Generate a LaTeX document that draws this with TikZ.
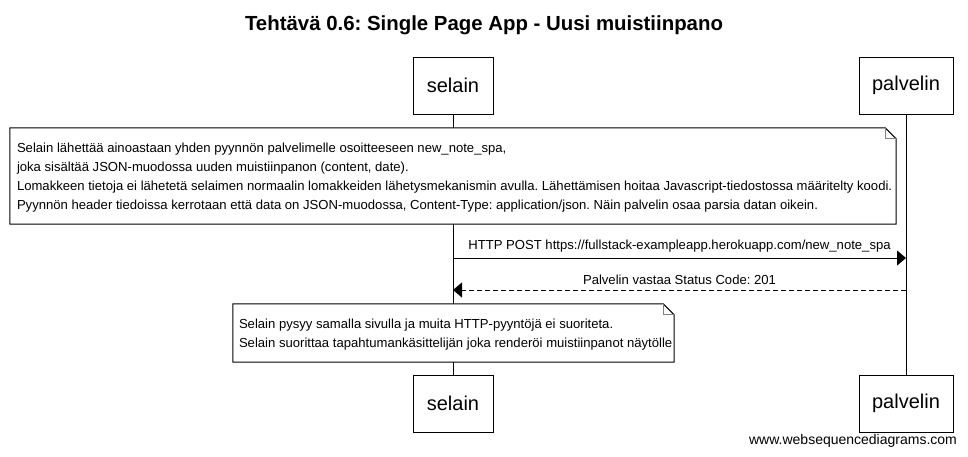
\documentclass[tikz,border=0pt]{standalone}
\usepackage{fontspec}
\setmainfont{Liberation Sans}
\usetikzlibrary{arrows.meta}
\begin{document}
\frenchspacing
\begin{tikzpicture}[x=1pt,y=-1pt,
  part/.style={draw, line width=1pt, fill=white, minimum height=57pt, inner sep=0pt, font=\fontsize{20}{24}\selectfont},
  notebox/.style={fill=white, inner sep=0pt},
  notetext/.style={anchor=west, inner sep=0pt, align=left, font=\fontsize{13.1}{19}\selectfont},
  noteline/.style={draw, line width=1pt},
  foldline/.style={draw=gray, line width=1pt},
  lifeline/.style={line width=1pt},
  msg/.style={line width=1pt, -{Triangle[length=9pt,width=15pt]}},
  reply/.style={line width=1pt, dash pattern=on 5pt off 3pt, -{Triangle[length=9pt,width=15pt]}},
  lbl/.style={font=\fontsize{13.1}{15}\selectfont, inner sep=0pt}
]
\useasboundingbox[fill=white] (0,0) rectangle (968,456);

\node[font=\bfseries\fontsize{20.4}{24}\selectfont] (title) at (484,25) {Tehtävä 0.6: Single Page App - Uusi muistiinpano};

\node[part, minimum width=80pt] (s1) at (453,85.5) {selain};
\node[part, minimum width=94pt] (p1) at (906,85.5) {palvelin};
\node[part, minimum width=80pt] (s2) at (453,403.5) {selain};
\node[part, minimum width=94pt] (p2) at (906,403.5) {palvelin};

\draw[lifeline] (s1.south) -- (s2.north);
\draw[lifeline] (p1.south) -- (p2.north);

% note 1
\node[notebox, minimum width=886pt, minimum height=96pt] (n1) at (453,176) {};
\draw[noteline] (n1.north west) -- ([xshift=-11pt]n1.north east) -- ([yshift=-11pt]n1.north east) -- (n1.south east) -- (n1.south west) -- cycle;
\draw[foldline] ([xshift=-11pt]n1.north east) -- ([xshift=-11pt,yshift=-11pt]n1.north east) -- ([yshift=-11pt]n1.north east);
\node[notetext] (t1) at ([xshift=7pt,yshift=-1.5pt]n1.west)
{Selain lähettää ainoastaan yhden pyynnön palvelimelle osoitteeseen new\_note\_spa,\\
joka sisältää JSON-muodossa uuden muistiinpanon (content, date).\\
Lomakkeen tietoja ei lähetetä selaimen normaalin lomakkeiden lähetysmekanismin avulla. Lähettämisen hoitaa Javascript-tiedostossa määritelty koodi.\\
Pyynnön header tiedoissa kerrotaan että data on JSON-muodossa, Content-Type: application/json. Näin palvelin osaa parsia datan oikein.};

% messages
\draw[msg] (s1.south |- 0,258) -- node[lbl, above=5pt] (m1) {HTTP POST https://fullstack-exampleapp.herokuapp.com/new\_note\_spa} (p1.south |- 0,258);
\draw[reply] (p1.south |- 0,290) -- node[lbl, above=5pt] (m2) {Palvelin vastaa Status Code: 201} (s1.south |- 0,290);

% note 2
\node[notebox, minimum width=441pt, minimum height=58pt] (n2) at (453.5,333) {};
\draw[noteline] (n2.north west) -- ([xshift=-11pt]n2.north east) -- ([yshift=-11pt]n2.north east) -- (n2.south east) -- (n2.south west) -- cycle;
\draw[foldline] ([xshift=-11pt]n2.north east) -- ([xshift=-11pt,yshift=-11pt]n2.north east) -- ([yshift=-11pt]n2.north east);
\node[notetext] (t2) at ([xshift=6pt,yshift=-1.5pt]n2.west)
{Selain pysyy samalla sivulla ja muita HTTP-pyyntöjä ei suoriteta.\\
Selain suorittaa tapahtumankäsittelijän joka renderöi muistiinpanot näytölle};

\node[font=\fontsize{14}{16}\selectfont, inner sep=0pt] (wm) at (853,441) {www.websequencediagrams.com};
\end{tikzpicture}
\end{document}
